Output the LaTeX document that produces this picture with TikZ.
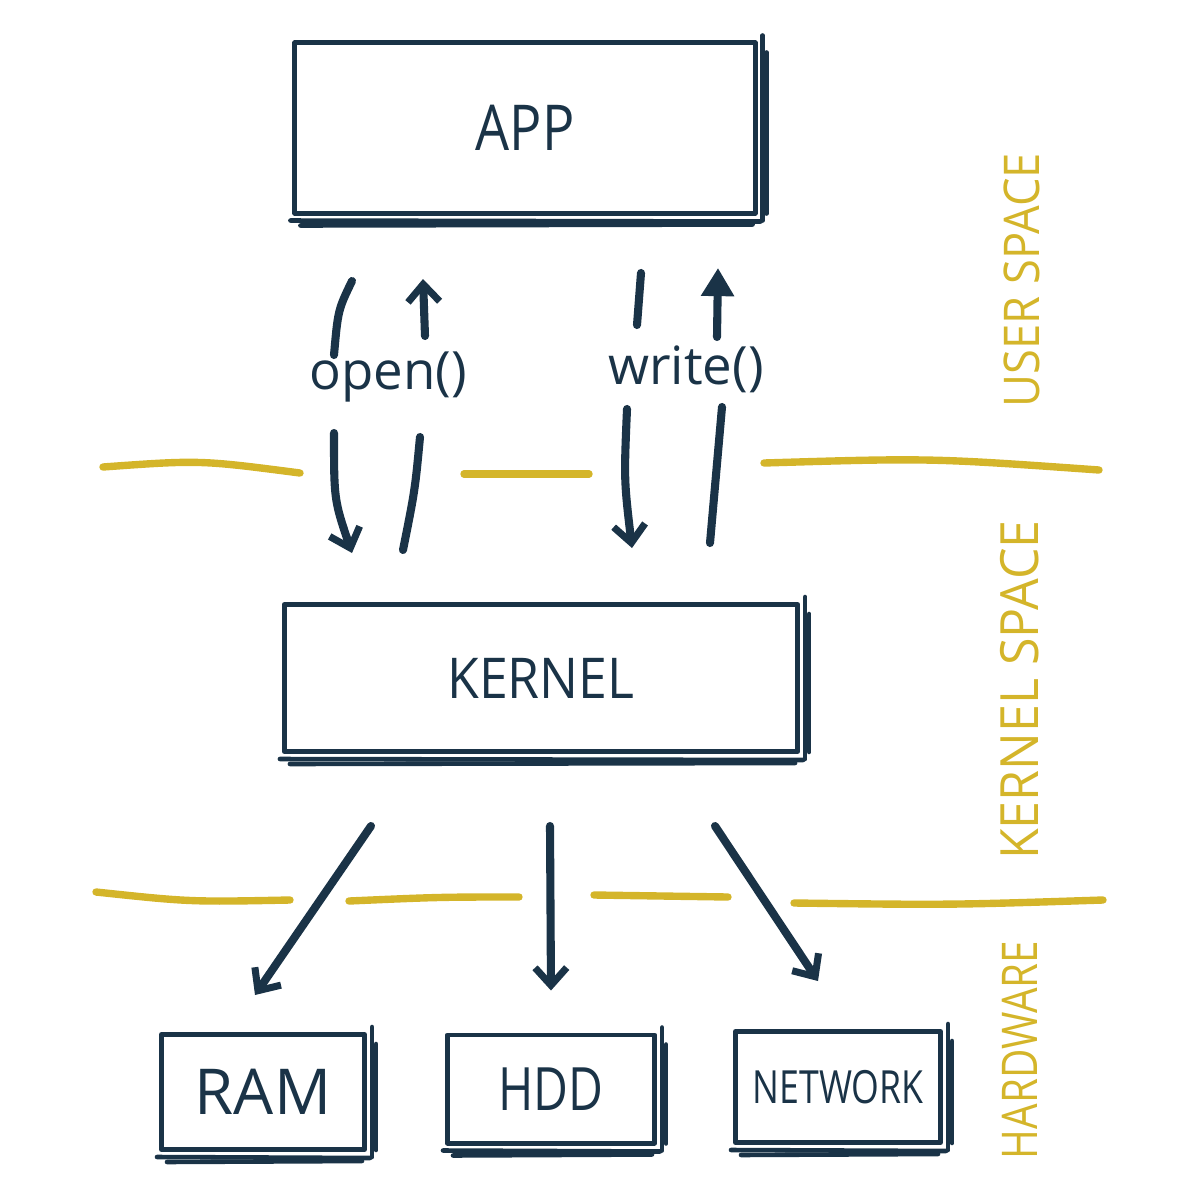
\documentclass[tikz,border=0pt]{standalone}
\usepackage{fontspec}
\setmainfont{Open Sans}
\usetikzlibrary{arrows.meta,calc}
\definecolor{ink}{HTML}{1A3347}
\definecolor{gold}{HTML}{D4B52A}
\tikzset{
  box/.style={draw=ink, line width=1.4pt, line join=round, rectangle, inner sep=0pt, text=ink},
  sk/.style={draw=ink, line width=1.3pt, line cap=round},
  arrline/.style={draw=ink, line width=2.3pt, line cap=round},
  barb/.style={arrline, -{Straight Barb[length=5pt,width=9pt,line width=2pt]}},
  tri/.style={arrline, -{Triangle[length=8pt,width=9pt]}},
  sep/.style={draw=gold, line width=2.1pt, line cap=round},
  zone/.style={text=gold, rotate=90},
  lbl/.style={text=ink, inner sep=1pt, font=\fontsize{15}{15}\selectfont}
}
\begin{document}
\begin{tikzpicture}[x=0.01cm,y=-0.01cm]
\useasboundingbox (0,0) rectangle (1200,1200);
% boxes
\node[box, minimum width=4.6cm, minimum height=1.7cm, font=\fontsize{18}{18}\selectfont] (app) at (525,128) {\scalebox{0.85}[1]{APP}};
\node[box, minimum width=5.13cm, minimum height=1.47cm, font=\fontsize{16}{16}\selectfont] (kernel) at (541,678) {\scalebox{0.92}[1]{KERNEL}};
\node[box, minimum width=2.03cm, minimum height=1.15cm, font=\fontsize{18}{18}\selectfont] (ram) at (263,1092) {RAM};
\node[box, minimum width=2.07cm, minimum height=1.08cm, font=\fontsize{17}{17}\selectfont] (hdd) at (551,1089) {\scalebox{0.8}[1]{HDD}};
\node[box, minimum width=2.05cm, minimum height=1.11cm, font=\fontsize{13}{13}\selectfont] (net) at (838,1087) {\scalebox{0.78}[1]{NETWORK}};
% sketchy extra strokes
\foreach \n in {app,kernel,ram,hdd,net}{
  \draw[sk] ([shift={(-2,5)}]\n.south west) -- ([shift={(3,6)}]\n.south east);
  \draw[sk] ([shift={(8,10)}]\n.south west) -- ([shift={(-5,9)}]\n.south east);
  \draw[sk] ([shift={(5,-5)}]\n.north east) -- ([shift={(5,5)}]\n.south east);
  \draw[sk] ([shift={(9,12)}]\n.north east) -- ([shift={(9,-2)}]\n.south east);
}
% syscall labels
\node[lbl] (open) at (388,377) {open()};
\node[lbl] (write) at (686,369) {write()};
% open() arrows
\coordinate (od1) at (352,281);
\coordinate (od2) at (334,355);
\coordinate (od3) at (334,433);
\coordinate (od4) at (352,553);
\draw[arrline] (od1) .. controls (338,310) .. (od2);
\draw[barb] (od3) .. controls (334,500) .. (od4);
\coordinate (ou1) at (403,550);
\coordinate (ou2) at (420,437);
\coordinate (ou3) at (425,336);
\coordinate (ou4) at (423,279);
\draw[arrline] (ou1) .. controls (415,490) .. (ou2);
\draw[barb] (ou3) -- (ou4);
% write() arrows
\coordinate (wd1) at (641,273);
\coordinate (wd2) at (637,325);
\coordinate (wd3) at (627,409);
\coordinate (wd4) at (632,548);
\draw[arrline] (wd1) -- (wd2);
\draw[barb] (wd3) .. controls (624,480) .. (wd4);
\coordinate (wu1) at (710,543);
\coordinate (wu2) at (722,407);
\coordinate (wu3) at (717,337);
\coordinate (wu4) at (718,268);
\draw[arrline] (wu1) -- (wu2);
\draw[tri] (wu3) -- (wu4);
% kernel to hardware
\draw[barb] ([shift={(-170,72)}]kernel.south) -- ([shift={(-8,-37)}]ram.north);
\draw[barb] ([shift={(9,72)}]kernel.south) -- ([shift={(0,-42)}]hdd.north);
\draw[barb] ([shift={(174,72)}]kernel.south) -- ([shift={(-20,-48)}]net.north);
% separators
\draw[sep] (103,467) .. controls (200,460) .. (300,473);
\draw[sep] (464,474) -- (589,474);
\draw[sep] (764,463) .. controls (930,458) .. (1099,470);
\draw[sep] (96,892) .. controls (190,902) .. (290,900);
\draw[sep] (349,901) .. controls (440,897) .. (519,897);
\draw[sep] (594,895) -- (728,897);
\draw[sep] (794,903) .. controls (950,905) .. (1103,900);
% zone labels
\node[zone, font=\fontsize{14}{14}\selectfont] (us) at (1022,280) {\scalebox{0.92}[1]{USER SPACE}};
\node[zone, font=\fontsize{15}{15}\selectfont] (ks) at (1020,690) {\scalebox{0.95}[1]{KERNEL SPACE}};
\node[zone, font=\fontsize{14}{14}\selectfont] (hw) at (1020,1050) {\scalebox{0.82}[1]{HARDWARE}};
\end{tikzpicture}
\end{document}
